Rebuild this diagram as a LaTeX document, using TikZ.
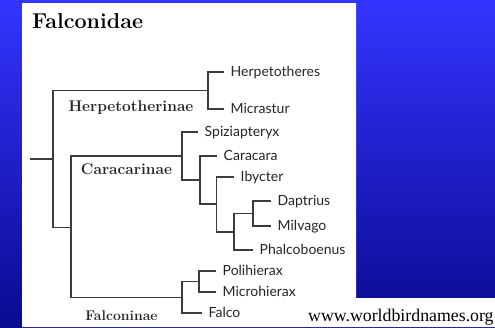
\documentclass[tikz,border=0pt]{standalone}
\usepackage{fontspec}
\usepackage{tikz}
\usetikzlibrary{calc,positioning}
\newfontfamily\taxfont{Lato}
\newfontfamily\webfont{Liberation Serif}
\definecolor{slidetop}{RGB}{52,52,255}
\definecolor{slidebot}{RGB}{10,10,145}
\definecolor{branchgray}{RGB}{60,60,60}

\begin{document}
\begin{tikzpicture}[x=1pt,y=-1pt,
  branch/.style={draw=branchgray,line width=1.1pt,line cap=rect},
  genus/.style={anchor=west,inner xsep=7.5pt,inner ysep=0pt,text height=9.8pt,text depth=0pt,font=\taxfont\fontsize{14}{16}\selectfont,text=black!85},
  clade/.style={anchor=base,inner sep=0pt,font=\bfseries\fontsize{15.5}{18}\selectfont,text=black!85}]
\useasboundingbox (0,0) rectangle (495,327);
% slide background
\shade[top color=slidetop,bottom color=slidebot] (0,0) rectangle (495,327);
\fill[white] (22,3) -| (356,298) -| (495,327) -| cycle;
\node[anchor=base west,inner sep=0pt,font=\bfseries\fontsize{21.5}{24}\selectfont] (title) at (32,28) {Falconidae};
% genera
\node[genus] (herp) at (223,72) {Herpetotheres};\node[genus] (micr) at (223,109) {Micrastur};
\node[genus] (spiz) at (197,132) {Spiziapteryx};\node[genus] (cara) at (216,156) {Caracara};
\node[genus] (ibyc) at (233,177) {Ibycter};\node[genus] (dapt) at (270,201) {Daptrius};
\node[genus] (milv) at (270,226) {Milvago};\node[genus] (phal) at (252,250) {Phalcoboenus};
\node[genus] (poli) at (215,271) {Polihierax};\node[genus] (mich) at (215,292) {Microhierax};
\node[genus] (falco) at (201,313) {Falco};
% branch points
\coordinate (stub) at (31,159);\coordinate (root) at (53,159);\coordinate (hrp) at (208,90.5);
\coordinate (low) at (71,227.5);\coordinate (crc) at (182,156);\coordinate (crb) at (200,180);
\coordinate (iby) at (216.5,204);\coordinate (phb) at (234,232);\coordinate (dmv) at (253,213.5);
\coordinate (flc) at (182,297.5);\coordinate (plm) at (199,281.5);
\draw[branch] (stub)--(root);
\foreach \p/\c in {root/hrp,root/low,hrp/herp.west,hrp/micr.west,low/crc,low/flc,
  crc/spiz.west,crc/crb,crb/cara.west,crb/iby,iby/ibyc.west,iby/phb,phb/dmv,phb/phal.west,
  dmv/dapt.west,dmv/milv.west,flc/plm,flc/falco.west,plm/poli.west,plm/mich.west}
  \draw[branch] (\p) |- (\c);
% subfamilies
\node[clade] (herpl) at (131,111) {Herpetotherinae};
\node[clade] (caral) at (126.5,174) {Caracarinae};
\node[clade,font=\bfseries\fontsize{14}{16}\selectfont] (falcl) at (121.5,320) {Falconinae};
\node[anchor=base west,inner sep=0pt,font=\webfont\fontsize{17.8}{20}\selectfont] (web) at (308,321) {www.worldbirdnames.org};
\end{tikzpicture}
\end{document}
